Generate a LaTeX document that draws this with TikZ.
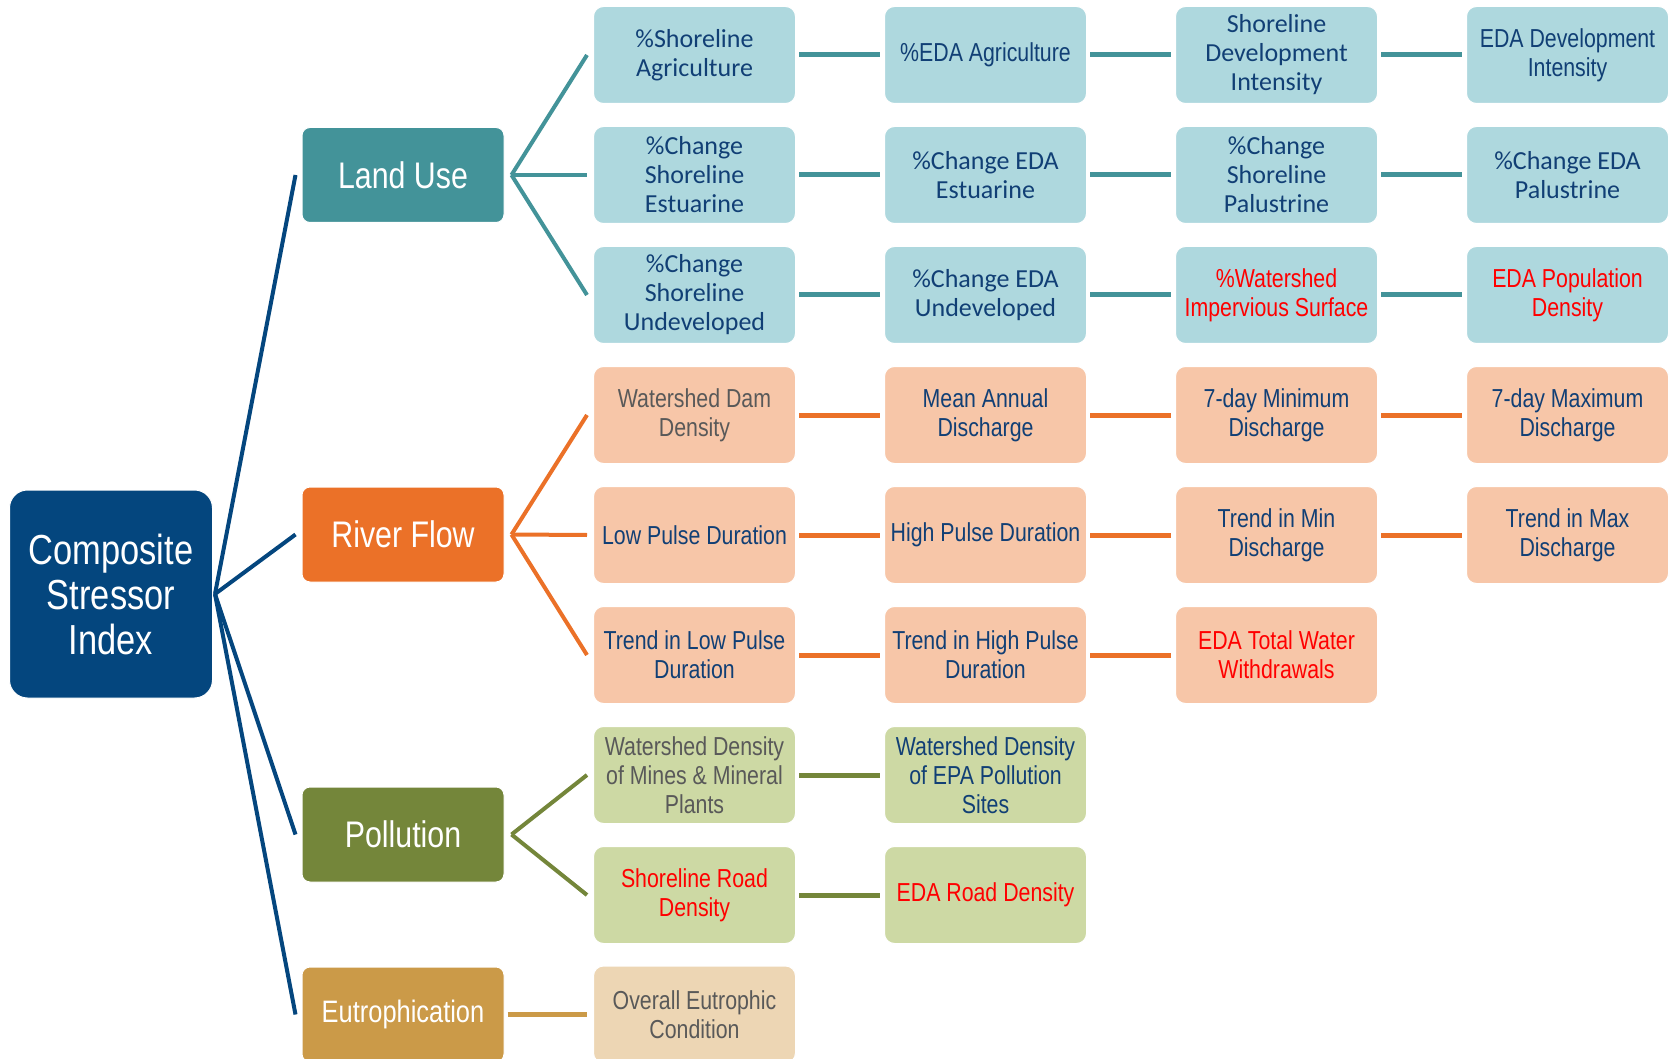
\documentclass[tikz,border=0pt]{standalone}
\usepackage{fontspec}
\setmainfont{Carlito}
\newfontfamily\narrowfont[FakeStretch=0.82]{Liberation Sans}
\definecolor{compblue}{RGB}{4,70,126}
\definecolor{landdark}{RGB}{67,147,153}
\definecolor{landlight}{RGB}{174,216,222}
\definecolor{riverdark}{RGB}{235,113,40}
\definecolor{riverlight}{RGB}{247,198,168}
\definecolor{polldark}{RGB}{116,134,58}
\definecolor{polllight}{RGB}{205,217,164}
\definecolor{eutrodark}{RGB}{203,154,72}
\definecolor{eutrolight}{RGB}{237,214,180}
\definecolor{navytext}{RGB}{17,63,117}
\definecolor{graytext}{RGB}{89,89,89}
\definecolor{redtext}{RGB}{255,0,0}

\begin{document}
\begin{tikzpicture}[x=1pt, y=-1pt,
        leafbox/.style={rectangle, rounded corners=10pt, draw=white, line width=1pt, minimum width=202pt, minimum height=97pt, inner sep=2pt, align=center, text=navytext, font=\fontsize{26}{29}\selectfont},
        narrow/.style={font=\narrowfont\fontsize{26}{29}\selectfont},
        catbox/.style={rectangle, rounded corners=8pt, draw=white, line width=1pt, minimum width=202pt, minimum height=95pt, inner sep=2pt, align=center, text=white, font=\narrowfont\fontsize{37}{44}\selectfont},
        fanline/.style={line width=4pt},
        linkline/.style={line width=5pt}]
            \clip (0,0) rectangle (1679,1059);

            \node[catbox, fill=compblue, rounded corners=18pt, minimum width=203pt, minimum height=208pt, font=\narrowfont\fontsize{42}{45}\selectfont] (comp) at (111,594) {Composite\\Stressor\\Index};

            \node[catbox, fill=landdark] (land) at (403,175) {Land Use};
            \node[catbox, fill=riverdark] (river) at (403,534.5) {River Flow};
            \node[catbox, fill=polldark] (poll) at (403,834.5) {Pollution};
            \node[catbox, fill=eutrodark, font=\narrowfont\fontsize{31}{36}\selectfont] (eutro) at (403,1014.5) {Eutrophication};

            \node[leafbox, fill=landlight] (la1) at (694.5,55) {\%Shoreline\\Agriculture};
            \node[leafbox, fill=landlight, narrow] (la2) at (985.5,55) {\%EDA Agriculture};
            \node[leafbox, fill=landlight] (la3) at (1276.5,55) {Shoreline\\Development\\Intensity};
            \node[leafbox, fill=landlight, narrow] (la4) at (1567.5,55) {EDA Development\\Intensity};
            \node[leafbox, fill=landlight] (lb1) at (694.5,175) {\%Change\\Shoreline\\Estuarine};
            \node[leafbox, fill=landlight] (lb2) at (985.5,175) {\%Change EDA\\Estuarine};
            \node[leafbox, fill=landlight] (lb3) at (1276.5,175) {\%Change\\Shoreline\\Palustrine};
            \node[leafbox, fill=landlight] (lb4) at (1567.5,175) {\%Change EDA\\Palustrine};
            \node[leafbox, fill=landlight] (lc1) at (694.5,295) {\%Change\\Shoreline\\Undeveloped};
            \node[leafbox, fill=landlight] (lc2) at (985.5,295) {\%Change EDA\\Undeveloped};
            \node[leafbox, fill=landlight, narrow, text=redtext] (lc3) at (1276.5,295) {\%Watershed\\Impervious Surface};
            \node[leafbox, fill=landlight, narrow, text=redtext] (lc4) at (1567.5,295) {EDA Population\\Density};

            \node[leafbox, fill=riverlight, narrow, text=graytext] (ra1) at (694.5,415) {Watershed Dam\\Density};
            \node[leafbox, fill=riverlight, narrow] (ra2) at (985.5,415) {Mean Annual\\Discharge};
            \node[leafbox, fill=riverlight, narrow] (ra3) at (1276.5,415) {7-day Minimum\\Discharge};
            \node[leafbox, fill=riverlight, narrow] (ra4) at (1567.5,415) {7-day Maximum\\Discharge};
            \node[leafbox, fill=riverlight, narrow] (rb1) at (694.5,535) {Low Pulse Duration};
            \node[leafbox, fill=riverlight, narrow] (rb2) at (985.5,535) {High Pulse Duration};
            \node[leafbox, fill=riverlight, narrow] (rb3) at (1276.5,535) {Trend in Min\\Discharge};
            \node[leafbox, fill=riverlight, narrow] (rb4) at (1567.5,535) {Trend in Max\\Discharge};
            \node[leafbox, fill=riverlight, narrow] (rc1) at (694.5,655) {Trend in Low Pulse\\Duration};
            \node[leafbox, fill=riverlight, narrow] (rc2) at (985.5,655) {Trend in High Pulse\\Duration};
            \node[leafbox, fill=riverlight, narrow, text=redtext] (rc3) at (1276.5,655) {EDA Total Water\\Withdrawals};

            \node[leafbox, fill=polllight, narrow, text=graytext] (pa1) at (694.5,775) {Watershed Density\\of Mines \& Mineral\\Plants};
            \node[leafbox, fill=polllight, narrow] (pa2) at (985.5,775) {Watershed Density\\of EPA Pollution\\Sites};
            \node[leafbox, fill=polllight, narrow, text=redtext] (pb1) at (694.5,895) {Shoreline Road\\Density};
            \node[leafbox, fill=polllight, narrow, text=redtext] (pb2) at (985.5,895) {EDA Road Density};

            \node[leafbox, fill=eutrolight, narrow, text=graytext] (ea1) at (694.5,1014.5) {Overall Eutrophic\\Condition};

            \draw[compblue, fanline] ([xshift=2pt]comp.east) -- ([xshift=-6pt]land.west);
            \draw[compblue, fanline] ([xshift=2pt]comp.east) -- ([xshift=-6pt]river.west);
            \draw[compblue, fanline] ([xshift=2pt]comp.east) -- ([xshift=-6pt]poll.west);
            \draw[compblue, fanline] ([xshift=2pt]comp.east) -- ([xshift=-6pt]eutro.west);

            \draw[landdark, fanline] ([xshift=7pt]land.east) -- ([xshift=-6pt]la1.west);
            \draw[landdark, fanline] ([xshift=7pt]land.east) -- ([xshift=-6pt]lb1.west);
            \draw[landdark, fanline] ([xshift=7pt]land.east) -- ([xshift=-6pt]lc1.west);
            \draw[riverdark, fanline] ([xshift=7pt]river.east) -- ([xshift=-6pt]ra1.west);
            \draw[riverdark, fanline] ([xshift=7pt]river.east) -- ([xshift=-6pt]rb1.west);
            \draw[riverdark, fanline] ([xshift=7pt]river.east) -- ([xshift=-6pt]rc1.west);
            \draw[polldark, fanline] ([xshift=7pt]poll.east) -- ([xshift=-6pt]pa1.west);
            \draw[polldark, fanline] ([xshift=7pt]poll.east) -- ([xshift=-6pt]pb1.west);
            \draw[eutrodark, linkline] ([xshift=3pt]eutro.east) -- ([xshift=-6pt]ea1.west);

            \draw[landdark, linkline] ([xshift=3pt]la1.east) -- ([xshift=-4pt]la2.west);
            \draw[landdark, linkline] ([xshift=3pt]la2.east) -- ([xshift=-4pt]la3.west);
            \draw[landdark, linkline] ([xshift=3pt]la3.east) -- ([xshift=-4pt]la4.west);
            \draw[landdark, linkline] ([xshift=3pt]lb1.east) -- ([xshift=-4pt]lb2.west);
            \draw[landdark, linkline] ([xshift=3pt]lb2.east) -- ([xshift=-4pt]lb3.west);
            \draw[landdark, linkline] ([xshift=3pt]lb3.east) -- ([xshift=-4pt]lb4.west);
            \draw[landdark, linkline] ([xshift=3pt]lc1.east) -- ([xshift=-4pt]lc2.west);
            \draw[landdark, linkline] ([xshift=3pt]lc2.east) -- ([xshift=-4pt]lc3.west);
            \draw[landdark, linkline] ([xshift=3pt]lc3.east) -- ([xshift=-4pt]lc4.west);
            \draw[riverdark, linkline] ([xshift=3pt]ra1.east) -- ([xshift=-4pt]ra2.west);
            \draw[riverdark, linkline] ([xshift=3pt]ra2.east) -- ([xshift=-4pt]ra3.west);
            \draw[riverdark, linkline] ([xshift=3pt]ra3.east) -- ([xshift=-4pt]ra4.west);
            \draw[riverdark, linkline] ([xshift=3pt]rb1.east) -- ([xshift=-4pt]rb2.west);
            \draw[riverdark, linkline] ([xshift=3pt]rb2.east) -- ([xshift=-4pt]rb3.west);
            \draw[riverdark, linkline] ([xshift=3pt]rb3.east) -- ([xshift=-4pt]rb4.west);
            \draw[riverdark, linkline] ([xshift=3pt]rc1.east) -- ([xshift=-4pt]rc2.west);
            \draw[riverdark, linkline] ([xshift=3pt]rc2.east) -- ([xshift=-4pt]rc3.west);
            \draw[polldark, linkline] ([xshift=3pt]pa1.east) -- ([xshift=-4pt]pa2.west);
            \draw[polldark, linkline] ([xshift=3pt]pb1.east) -- ([xshift=-4pt]pb2.west);
        \end{tikzpicture}
\end{document}
